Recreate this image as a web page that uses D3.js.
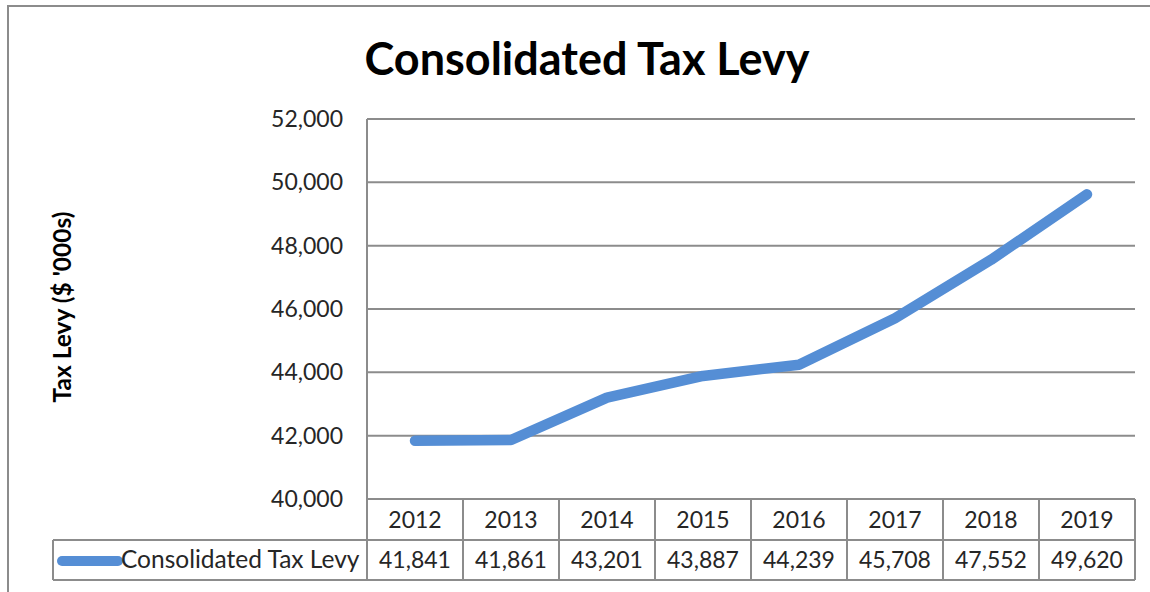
<!DOCTYPE html>
<html><head><meta charset="utf-8">
<script src="https://cdn.jsdelivr.net/npm/d3@7"></script>
<style>body{margin:0;background:#fff}svg{display:block}</style>
</head><body>
<svg id="c" width="1150" height="592"></svg>
<script>
const years = ["2012","2013","2014","2015","2016","2017","2018","2019"];
const levy = [41841,41861,43201,43887,44239,45708,47552,49620];
const yTicks = [40000,42000,44000,46000,48000,50000,52000];
const seriesName = "Consolidated Tax Levy";
const chartTitle = "Consolidated Tax Levy";
const yTitle = "Tax Levy ($ '000s)";

const FONT = "Lato, 'Open Sans', sans-serif";
const GRID = "#8c8c8c";
const BLUE = "#558ed5";
const TXT = "#262626";
const svg = d3.select("#c");

// outer frame
svg.append("rect").attr("x",8).attr("y",6).attr("width",1160).attr("height",600)
  .attr("fill","none").attr("stroke",GRID).attr("stroke-width",2);

const pLeft=367, pRight=1135, pTop=119, pBottom=499;
const x = d3.scaleBand().domain(years).range([pLeft,pRight]);
const y = d3.scaleLinear().domain([40000,52000]).range([pBottom,pTop]);

svg.append("text").attr("x",587).attr("y",75).attr("text-anchor","middle")
  .attr("font-family",FONT).attr("font-weight","bold").attr("font-size",45)
  .attr("fill","#000").text(chartTitle);

// gridlines
svg.append("g").selectAll("line").data(yTicks.filter(d=>d>40000)).join("line")
  .attr("x1",pLeft).attr("x2",pRight).attr("y1",d=>y(d)).attr("y2",d=>y(d))
  .attr("stroke",GRID).attr("stroke-width",2);

// y axis labels
const fmt = d3.format(",");
svg.append("g").selectAll("text").data(yTicks).join("text")
  .attr("x",343).attr("y",d=>y(d)+8).attr("text-anchor","end")
  .attr("font-family",FONT).attr("font-size",23).attr("fill",TXT)
  .text(d=>fmt(d));

// y title
svg.append("text").attr("transform","translate(71,307) rotate(-90)")
  .attr("text-anchor","middle").attr("font-family",FONT).attr("font-weight","bold")
  .attr("font-size",24.5).attr("fill","#000").text(yTitle);

// table
const rowTop = pBottom, rowMid = 540, rowBot = 580, legLeft = 53;
const tg = svg.append("g").attr("stroke",GRID).attr("stroke-width",2).attr("fill","none");
tg.append("line").attr("x1",pLeft).attr("x2",pLeft).attr("y1",pTop).attr("y2",rowBot);
tg.append("line").attr("x1",pLeft).attr("x2",pRight).attr("y1",rowTop).attr("y2",rowTop);
tg.append("line").attr("x1",legLeft).attr("x2",pRight).attr("y1",rowMid).attr("y2",rowMid);
tg.append("line").attr("x1",legLeft).attr("x2",pRight).attr("y1",rowBot).attr("y2",rowBot);
tg.append("line").attr("x1",legLeft).attr("x2",legLeft).attr("y1",rowMid).attr("y2",rowBot);
tg.selectAll("line.v").data(years).join("line").attr("class","v")
  .attr("x1",d=>x(d)+x.bandwidth()).attr("x2",d=>x(d)+x.bandwidth())
  .attr("y1",rowTop).attr("y2",rowBot);

svg.append("g").selectAll("text").data(years).join("text")
  .attr("x",d=>x(d)+x.bandwidth()/2).attr("y",528).attr("text-anchor","middle")
  .attr("font-family",FONT).attr("font-size",23).attr("fill",TXT).text(d=>d);
svg.append("g").selectAll("text").data(levy).join("text")
  .attr("x",(d,i)=>x(years[i])+x.bandwidth()/2).attr("y",568).attr("text-anchor","middle")
  .attr("font-family",FONT).attr("font-size",23).attr("fill",TXT).text(d=>fmt(d));

// legend
svg.append("line").attr("x1",62).attr("x2",118).attr("y1",561).attr("y2",561)
  .attr("stroke",BLUE).attr("stroke-width",10).attr("stroke-linecap","round");
svg.append("text").attr("x",121).attr("y",568).attr("font-family",FONT).attr("font-size",24.5)
  .attr("fill",TXT).text(seriesName);

// line
const line = d3.line().x((d,i)=>x(years[i])+x.bandwidth()/2).y(d=>y(d));
svg.append("path").datum(levy).attr("d",line).attr("fill","none")
  .attr("stroke",BLUE).attr("stroke-width",10.5).attr("stroke-linecap","round").attr("stroke-linejoin","round");
</script>
</body></html>
